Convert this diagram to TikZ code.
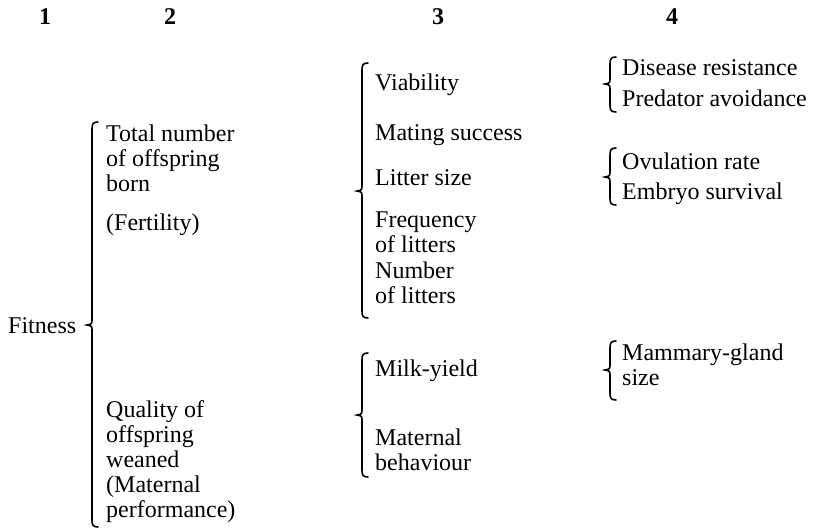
\documentclass[tikz,border=0pt]{standalone}
\usepackage{fontspec}
\setmainfont{Liberation Serif}
% left curly brace: x, top, tip, bottom
\newcommand{\curlybrace}[4]{%
\draw[brc] (#1+6,#2) .. controls (#1+1,#2) and (#1,#2+2) .. (#1,#2+7) -- (#1,#3-6)
  .. controls (#1,#3-1) .. (#1-5,#3) .. controls (#1,#3+1) .. (#1,#3+6)
  -- (#1,#4-7) .. controls (#1,#4-2) and (#1+1,#4) .. (#1+6,#4);}
\begin{document}
\begin{tikzpicture}[x=1pt,y=-1pt,
  txt/.style={inner sep=0pt, anchor=north west, align=left, font=\fontsize{24}{25}\selectfont},
  head/.style={inner sep=0pt, font=\fontsize{24}{25}\selectfont\bfseries},
  brc/.style={line width=1.6pt, line cap=round}]
\useasboundingbox (0,0) rectangle (819,530);

\node[head] (h1) at (45,17) {1};
\node[head] (h2) at (170,17) {2};
\node[head] (h3) at (438,17) {3};
\node[head] (h4) at (672,17) {4};

\node[txt] (fit) at (8,317) {Fitness};
\curlybrace{92}{122}{325}{527}

\node[txt] (tot) at (106,125) {Total number\\of offspring\\born};
\node[txt] (fer) at (106,214) {(Fertility)};
\node[txt] (qua) at (106,400) {Quality of\\offspring\\weaned\\(Maternal\\performance)};

\curlybrace{362}{63}{191}{318}
\node[txt] (via) at (375,74) {Viability};
\node[txt] (mat) at (375,124) {Mating success};
\node[txt] (lit) at (375,169) {Litter size};
\node[txt] (fre) at (375,212) {Frequency\\of litters};
\node[txt] (num) at (375,262) {Number\\of litters};

\curlybrace{362}{353}{415}{477}
\node[txt] (mil) at (375,360) {Milk-yield};
\node[txt] (mbe) at (375,429) {Maternal\\behaviour};

\curlybrace{610}{57}{84}{112}
\node[txt] (dis) at (622,59) {Disease resistance};
\node[txt] (pre) at (622,90) {Predator avoidance};

\curlybrace{610}{148}{177}{205}
\node[txt] (ovu) at (622,153) {Ovulation rate};
\node[txt] (emb) at (622,183) {Embryo survival};

\curlybrace{610}{341}{370}{400}
\node[txt] (mam) at (622,344) {Mammary-gland\\size};
\end{tikzpicture}
\end{document}
